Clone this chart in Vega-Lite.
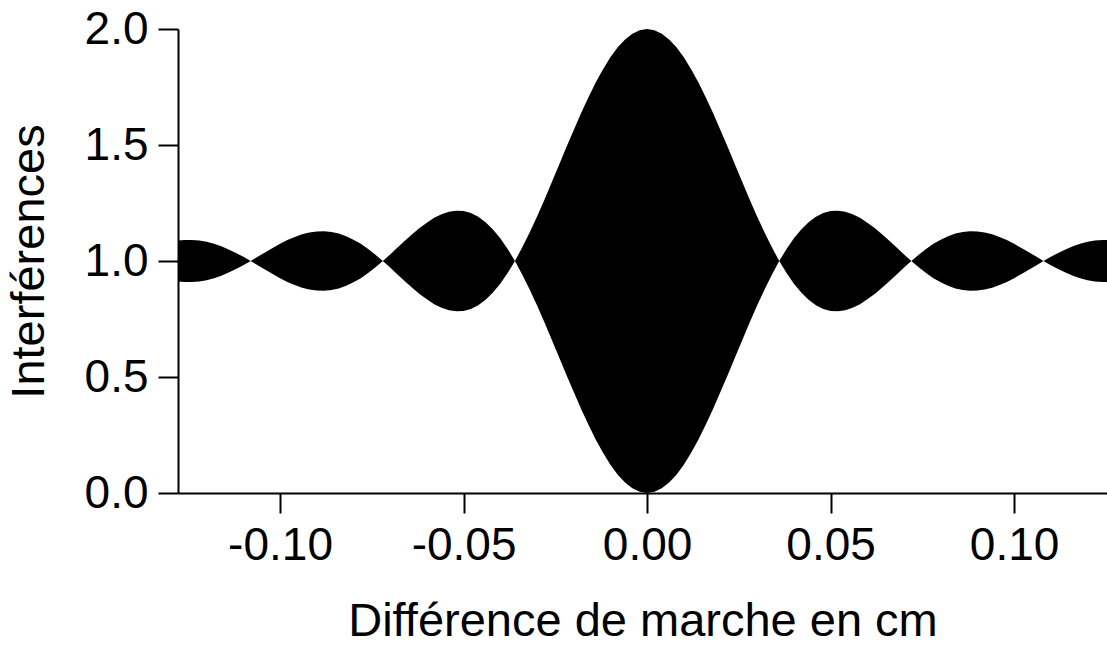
{
  "$schema": "https://vega.github.io/schema/vega-lite/v6.json",
  "autosize": "none",
  "width": 929,
  "height": 464,
  "padding": {"left": 178, "top": 29, "right": 0, "bottom": 153},
  "background": "white",
  "config": {
    "view": {"stroke": null},
    "font": "Liberation Sans",
    "axis": {"grid": false, "domainColor": "black", "domainWidth": 2, "tickColor": "black", "tickWidth": 2, "tickSize": 20, "labelColor": "black", "titleColor": "black", "labelFont": "Liberation Sans", "titleFont": "Liberation Sans", "labelFontSize": 46, "titleFontSize": 47, "titleFontWeight": "normal", "labelPadding": 10}
  },
  "data": {"values": [
    {"x": -0.128, "lo": 0.912, "hi": 1.088},
    {"x": -0.126, "lo": 0.909, "hi": 1.091},
    {"x": -0.124, "lo": 0.909, "hi": 1.091},
    {"x": -0.122, "lo": 0.912, "hi": 1.088},
    {"x": -0.120, "lo": 0.917, "hi": 1.083},
    {"x": -0.118, "lo": 0.926, "hi": 1.074},
    {"x": -0.116, "lo": 0.936, "hi": 1.064},
    {"x": -0.114, "lo": 0.950, "hi": 1.050},
    {"x": -0.112, "lo": 0.965, "hi": 1.035},
    {"x": -0.110, "lo": 0.982, "hi": 1.018},
    {"x": -0.108, "lo": 1.000, "hi": 1.000},
    {"x": -0.106, "lo": 0.981, "hi": 1.019},
    {"x": -0.104, "lo": 0.962, "hi": 1.038},
    {"x": -0.102, "lo": 0.944, "hi": 1.056},
    {"x": -0.100, "lo": 0.926, "hi": 1.074},
    {"x": -0.098, "lo": 0.910, "hi": 1.090},
    {"x": -0.096, "lo": 0.897, "hi": 1.103},
    {"x": -0.094, "lo": 0.885, "hi": 1.115},
    {"x": -0.092, "lo": 0.877, "hi": 1.123},
    {"x": -0.090, "lo": 0.873, "hi": 1.127},
    {"x": -0.088, "lo": 0.872, "hi": 1.128},
    {"x": -0.086, "lo": 0.875, "hi": 1.125},
    {"x": -0.084, "lo": 0.882, "hi": 1.118},
    {"x": -0.082, "lo": 0.893, "hi": 1.107},
    {"x": -0.080, "lo": 0.908, "hi": 1.092},
    {"x": -0.078, "lo": 0.926, "hi": 1.074},
    {"x": -0.076, "lo": 0.948, "hi": 1.052},
    {"x": -0.074, "lo": 0.973, "hi": 1.027},
    {"x": -0.072, "lo": 1.000, "hi": 1.000},
    {"x": -0.070, "lo": 0.972, "hi": 1.028},
    {"x": -0.068, "lo": 0.942, "hi": 1.058},
    {"x": -0.066, "lo": 0.913, "hi": 1.087},
    {"x": -0.064, "lo": 0.885, "hi": 1.115},
    {"x": -0.062, "lo": 0.858, "hi": 1.142},
    {"x": -0.060, "lo": 0.835, "hi": 1.165},
    {"x": -0.058, "lo": 0.814, "hi": 1.186},
    {"x": -0.056, "lo": 0.798, "hi": 1.202},
    {"x": -0.054, "lo": 0.788, "hi": 1.212},
    {"x": -0.052, "lo": 0.783, "hi": 1.217},
    {"x": -0.050, "lo": 0.785, "hi": 1.215},
    {"x": -0.048, "lo": 0.793, "hi": 1.207},
    {"x": -0.046, "lo": 0.809, "hi": 1.191},
    {"x": -0.044, "lo": 0.833, "hi": 1.167},
    {"x": -0.042, "lo": 0.864, "hi": 1.136},
    {"x": -0.040, "lo": 0.902, "hi": 1.098},
    {"x": -0.038, "lo": 0.948, "hi": 1.052},
    {"x": -0.036, "lo": 1.000, "hi": 1.000},
    {"x": -0.034, "lo": 0.941, "hi": 1.059},
    {"x": -0.032, "lo": 0.877, "hi": 1.123},
    {"x": -0.030, "lo": 0.809, "hi": 1.191},
    {"x": -0.028, "lo": 0.737, "hi": 1.263},
    {"x": -0.026, "lo": 0.662, "hi": 1.338},
    {"x": -0.024, "lo": 0.586, "hi": 1.414},
    {"x": -0.022, "lo": 0.510, "hi": 1.490},
    {"x": -0.020, "lo": 0.436, "hi": 1.564},
    {"x": -0.018, "lo": 0.363, "hi": 1.637},
    {"x": -0.016, "lo": 0.295, "hi": 1.705},
    {"x": -0.014, "lo": 0.231, "hi": 1.769},
    {"x": -0.012, "lo": 0.173, "hi": 1.827},
    {"x": -0.010, "lo": 0.122, "hi": 1.878},
    {"x": -0.008, "lo": 0.079, "hi": 1.921},
    {"x": -0.006, "lo": 0.045, "hi": 1.955},
    {"x": -0.004, "lo": 0.020, "hi": 1.980},
    {"x": -0.002, "lo": 0.005, "hi": 1.995},
    {"x": 0.000, "lo": 0.000, "hi": 2.000},
    {"x": 0.002, "lo": 0.005, "hi": 1.995},
    {"x": 0.004, "lo": 0.020, "hi": 1.980},
    {"x": 0.006, "lo": 0.045, "hi": 1.955},
    {"x": 0.008, "lo": 0.079, "hi": 1.921},
    {"x": 0.010, "lo": 0.122, "hi": 1.878},
    {"x": 0.012, "lo": 0.173, "hi": 1.827},
    {"x": 0.014, "lo": 0.231, "hi": 1.769},
    {"x": 0.016, "lo": 0.295, "hi": 1.705},
    {"x": 0.018, "lo": 0.363, "hi": 1.637},
    {"x": 0.020, "lo": 0.436, "hi": 1.564},
    {"x": 0.022, "lo": 0.510, "hi": 1.490},
    {"x": 0.024, "lo": 0.586, "hi": 1.414},
    {"x": 0.026, "lo": 0.662, "hi": 1.338},
    {"x": 0.028, "lo": 0.737, "hi": 1.263},
    {"x": 0.030, "lo": 0.809, "hi": 1.191},
    {"x": 0.032, "lo": 0.877, "hi": 1.123},
    {"x": 0.034, "lo": 0.941, "hi": 1.059},
    {"x": 0.036, "lo": 1.000, "hi": 1.000},
    {"x": 0.038, "lo": 0.948, "hi": 1.052},
    {"x": 0.040, "lo": 0.902, "hi": 1.098},
    {"x": 0.042, "lo": 0.864, "hi": 1.136},
    {"x": 0.044, "lo": 0.833, "hi": 1.167},
    {"x": 0.046, "lo": 0.809, "hi": 1.191},
    {"x": 0.048, "lo": 0.793, "hi": 1.207},
    {"x": 0.050, "lo": 0.785, "hi": 1.215},
    {"x": 0.052, "lo": 0.783, "hi": 1.217},
    {"x": 0.054, "lo": 0.788, "hi": 1.212},
    {"x": 0.056, "lo": 0.798, "hi": 1.202},
    {"x": 0.058, "lo": 0.814, "hi": 1.186},
    {"x": 0.060, "lo": 0.835, "hi": 1.165},
    {"x": 0.062, "lo": 0.858, "hi": 1.142},
    {"x": 0.064, "lo": 0.885, "hi": 1.115},
    {"x": 0.066, "lo": 0.913, "hi": 1.087},
    {"x": 0.068, "lo": 0.942, "hi": 1.058},
    {"x": 0.070, "lo": 0.972, "hi": 1.028},
    {"x": 0.072, "lo": 1.000, "hi": 1.000},
    {"x": 0.074, "lo": 0.973, "hi": 1.027},
    {"x": 0.076, "lo": 0.948, "hi": 1.052},
    {"x": 0.078, "lo": 0.926, "hi": 1.074},
    {"x": 0.080, "lo": 0.908, "hi": 1.092},
    {"x": 0.082, "lo": 0.893, "hi": 1.107},
    {"x": 0.084, "lo": 0.882, "hi": 1.118},
    {"x": 0.086, "lo": 0.875, "hi": 1.125},
    {"x": 0.088, "lo": 0.872, "hi": 1.128},
    {"x": 0.090, "lo": 0.873, "hi": 1.127},
    {"x": 0.092, "lo": 0.877, "hi": 1.123},
    {"x": 0.094, "lo": 0.885, "hi": 1.115},
    {"x": 0.096, "lo": 0.897, "hi": 1.103},
    {"x": 0.098, "lo": 0.910, "hi": 1.090},
    {"x": 0.100, "lo": 0.926, "hi": 1.074},
    {"x": 0.102, "lo": 0.944, "hi": 1.056},
    {"x": 0.104, "lo": 0.962, "hi": 1.038},
    {"x": 0.106, "lo": 0.981, "hi": 1.019},
    {"x": 0.108, "lo": 1.000, "hi": 1.000},
    {"x": 0.110, "lo": 0.982, "hi": 1.018},
    {"x": 0.112, "lo": 0.965, "hi": 1.035},
    {"x": 0.114, "lo": 0.950, "hi": 1.050},
    {"x": 0.116, "lo": 0.936, "hi": 1.064},
    {"x": 0.118, "lo": 0.926, "hi": 1.074},
    {"x": 0.120, "lo": 0.917, "hi": 1.083},
    {"x": 0.122, "lo": 0.912, "hi": 1.088},
    {"x": 0.124, "lo": 0.909, "hi": 1.091},
    {"x": 0.126, "lo": 0.909, "hi": 1.091},
    {"x": 0.128, "lo": 0.912, "hi": 1.088}
  ]},
  "mark": {"type": "area", "color": "black", "clip": true, "interpolate": "linear"},
  "encoding": {
    "x": {
      "field": "x", "type": "quantitative",
      "scale": {"domain": [-0.1278, 0.1253], "nice": false, "zero": false},
      "axis": {"values": [-0.1, -0.05, 0, 0.05, 0.1], "labelExpr": "datum.value < 0 ? '-' + format(-datum.value, '.2f') : format(datum.value, '.2f')", "title": "Différence de marche en cm", "titlePadding": 30, "labelFlush": false, "labelOverlap": false}
    },
    "y": {
      "field": "hi", "type": "quantitative",
      "scale": {"domain": [0, 2], "nice": false},
      "axis": {"values": [0, 0.5, 1, 1.5, 2], "format": ".1f", "title": "Interférences", "titlePadding": 31, "labelFlush": false, "labelOverlap": false}
    },
    "y2": {"field": "lo"}
  }
}
